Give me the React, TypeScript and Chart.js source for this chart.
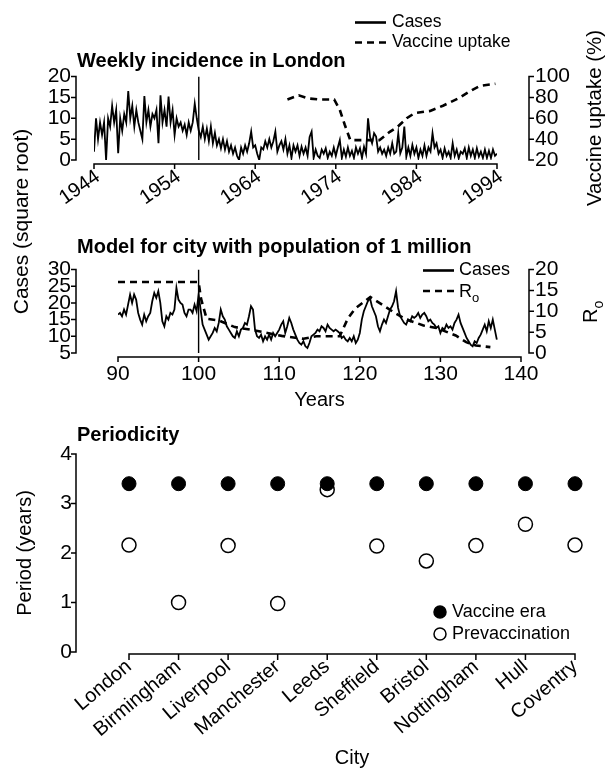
import React, { useEffect, useRef } from "react";
import { Chart, registerables } from "chart.js";

Chart.register(...registerables);

const FONT = "'Liberation Sans', Arial, sans-serif";
Chart.defaults.color = "#000";
Chart.defaults.font.family = FONT;

// ---------- Panel 1: weekly incidence in London (square root), quarter-year readings ----------
const londonStartYear = 1944;
const londonStepYears = 0.25;
const londonCases = [
  2, 10, 5, 9, 6, 9, 0, 10, 8, 13, 9, 12, 1.6, 10, 7, 11, 9, 16.5, 10, 13,
  8, 12, 9, 7, 5, 15.3, 9, 12, 8, 11, 10, 12, 4, 15.5, 9, 12, 8, 15.2, 9, 12,
  6, 10, 8, 9, 7, 8.5, 6, 9, 7, 9, 13.5, 10, 7, 5.5, 8, 5, 7.5, 4.5, 8, 4,
  6.5, 3.5, 5, 2.8, 5, 2.5, 4.5, 2, 3.5, 1.5, 3, 1, 0, 3, 1.5, 3.5, 2, 4, 6.8, 3,
  3.5, 1.5, 0, 3, 2.5, 4.5, 3, 5, 3, 4.5, 6.8, 2, 3.5, 4.5, 2.5, 5, 1.5, 3.5, 0.5, 3.5,
  2, 3.5, 1, 3.2, 1.5, 3, 1, 5.5, 6.8, 0.5, 2.5, 1, 0.5, 2.5, 1.5, 2.8, 0.5, 2, 1, 3,
  1, 3, 4.8, 0.5, 2.5, 0.8, 3, 1, 2.2, 0.5, 3, 1.5, 2.8, 0.5, 3.2, 1.5, 10, 5.5, 4, 6.4,
  5.6, 2, 3, 1.5, 2.5, 1, 3, 1.5, 4, 1.5, 2, 6.4, 1.6, 3, 8, 0.8, 3, 1, 3.6, 1.5,
  3, 0.5, 2.5, 1, 3.5, 1, 3, 2, 6.4, 3, 4, 1.5, 2.5, 0.5, 2.8, 1, 2, 0.5, 4, 1,
  2.5, 0.4, 2, 1.5, 2.8, 0.5, 3, 1, 2.5, 0.5, 2.8, 0.8, 2, 0.5, 2.5, 0.5, 2.2, 0.5, 2.5, 1,
  1.5,
];
const vaccineYears = [1968.0, 1969.4, 1970.6, 1972.0, 1973.8, 1974.5, 1975.1, 1975.8, 1977.2, 1979.4, 1980.7, 1981.7, 1982.8, 1983.8, 1985.7, 1987.3, 1989.2, 1990.9, 1991.9, 1993.8];
const vaccineUptake = [78, 82, 79, 78, 78, 68, 54, 39, 39, 39, 47, 52, 60, 65, 67, 72, 79, 87, 91, 93];
const londonYearTicks = [1944, 1954, 1964, 1974, 1984, 1994];
const londonCaseTicks = [0, 5, 10, 15, 20];
const uptakeTicks = [20, 40, 60, 80, 100];
const londonMarkerYear = 1957;

// ---------- Panel 2: model for a city of 1 million ----------
const modelStartYear = 90;
const modelStepYears = 0.25;
const modelCases = [
  16.5, 17, 16, 18, 16.5, 19.5, 22.5, 20, 22.5, 21, 17, 15, 13.5, 16.5, 14.5, 16, 17, 20.5, 23, 21.5,
  23.5, 20, 14.5, 13, 16, 15, 17, 16.5, 18, 24.5, 21, 20, 19.5, 17, 16, 18, 18, 17, 19.5, 17.5,
  22.5, 18, 13.5, 12, 10.5, 9, 10, 11, 12.5, 11.5, 14, 18, 16, 15, 13, 12, 11, 10, 9.5, 11.5,
  10, 12, 12.5, 14, 13.5, 16, 19, 18, 12, 10, 9.5, 10.5, 8.5, 10, 9, 10.5, 9, 11, 10, 11,
  12, 13.5, 14.5, 11, 13, 15.5, 14, 12, 10.5, 9, 8, 7.5, 8.5, 7, 6.5, 8, 10, 10.5, 11, 12,
  11.5, 13, 12.5, 11.5, 13.5, 12.5, 12, 11.5, 12, 11.5, 11, 9.5, 10, 9, 8.5, 9.5, 8.5, 10, 8, 9,
  11, 15, 17.5, 19, 20.5, 21.5, 19, 17.5, 16, 13, 11.5, 13.5, 15, 14, 16, 18, 19, 20.5, 23.5, 18.5,
  16, 15, 14, 13.5, 15, 14.5, 16, 15.5, 16, 17, 15.5, 16.5, 17, 16, 14.5, 15, 14, 13.5, 12.5, 13,
  11, 12.5, 12, 13.5, 12.5, 13, 12, 14, 15, 16.5, 14, 12.5, 11, 9.5, 8.5, 7.5, 7, 8.5, 8, 9.5,
  10.5, 12, 13.5, 11.5, 14.5, 12.5, 15, 12, 9,
];
const r0Years = [90, 100, 100.3, 101, 102.5, 104.5, 107, 110.3, 113, 114.6, 117.5, 118.5, 119.4, 121.3, 122.9, 124.1, 125.8, 127.9, 129.5, 131.9, 133.2, 134.4, 136.2];
const r0Values = [17, 17, 13, 8.2, 7.8, 6.2, 5.4, 4.1, 3.4, 4, 4, 8.2, 10.6, 13.4, 11.4, 9.9, 8, 6.6, 6, 4.2, 2.6, 1.8, 1.4];
const modelYearTicks = [90, 100, 110, 120, 130, 140];
const modelCaseTicks = [5, 10, 15, 20, 25, 30];
const r0Ticks = [0, 5, 10, 15, 20];
const modelMarkerYear = 100;

// ---------- Panel 3: periodicity ----------
const cities = ["London", "Birmingham", "Liverpool", "Manchester", "Leeds", "Sheffield", "Bristol", "Nottingham", "Hull", "Coventry"];
const vaccineEraPeriod = [3.4, 3.4, 3.4, 3.4, 3.4, 3.4, 3.4, 3.4, 3.4, 3.4];
const prevaccinationPeriod = [2.16, 1.0, 2.15, 0.98, 3.28, 2.14, 1.84, 2.15, 2.58, 2.16];
const periodTicks = [0, 1, 2, 3, 4];

type AxisSpec = { id: string; side: "left" | "right" | "bottom"; gap: number; tick: number };

function axesPlugin(specs: AxisSpec[]) {
  return {
    id: "separatedAxes",
    afterDraw(chart: any) {
      const { ctx, chartArea } = chart;
      ctx.save();
      ctx.strokeStyle = "#000";
      ctx.lineWidth = 1.5;
      for (const s of specs) {
        const scale = chart.scales[s.id];
        const px: number[] = scale.ticks.map((_t: any, i: number) => scale.getPixelForTick(i));
        const lo = Math.min(...px) - 0.75;
        const hi = Math.max(...px) + 0.75;
        ctx.beginPath();
        if (s.side === "bottom") {
          const y = chartArea.bottom + s.gap;
          ctx.moveTo(lo, y);
          ctx.lineTo(hi, y);
          for (const p of px) {
            ctx.moveTo(p, y);
            ctx.lineTo(p, y + s.tick);
          }
        } else {
          const x = s.side === "left" ? chartArea.left - s.gap : chartArea.right + s.gap;
          const d = s.side === "left" ? -s.tick : s.tick;
          ctx.moveTo(x, lo);
          ctx.lineTo(x, hi);
          for (const p of px) {
            ctx.moveTo(x, p);
            ctx.lineTo(x + d, p);
          }
        }
        ctx.stroke();
      }
      ctx.restore();
    },
  };
}

function txt(ctx: CanvasRenderingContext2D, s: string, x: number, y: number, font: string, align: CanvasTextAlign = "left", baseline: CanvasTextBaseline = "alphabetic", rot = 0) {
  ctx.save();
  ctx.font = font;
  ctx.fillStyle = "#000";
  ctx.textAlign = align;
  ctx.textBaseline = baseline;
  ctx.translate(x, y);
  if (rot) ctx.rotate(rot);
  ctx.fillText(s, 0, 0);
  ctx.restore();
}

function seg(ctx: CanvasRenderingContext2D, x1: number, y: number, x2: number, w: number, dash: number[]) {
  ctx.save();
  ctx.strokeStyle = "#000";
  ctx.lineWidth = w;
  ctx.setLineDash(dash);
  ctx.beginPath();
  ctx.moveTo(x1, y);
  ctx.lineTo(x2, y);
  ctx.stroke();
  ctx.restore();
}

function dot(ctx: CanvasRenderingContext2D, x: number, y: number, r: number, fill: string) {
  ctx.save();
  ctx.beginPath();
  ctx.arc(x, y, r, 0, Math.PI * 2);
  ctx.fillStyle = fill;
  ctx.fill();
  ctx.lineWidth = 1.5;
  ctx.strokeStyle = "#000";
  ctx.stroke();
  ctx.restore();
}

const setTicks = (vals: number[]) => (scale: any) => {
  scale.ticks = vals.map((v) => ({ value: v }));
};

// fix the width of a vertical axis and stop its label padding from pushing the plot area
const fixWidth = (w: number) => (s: any) => {
  s.width = w;
  s.paddingTop = 0;
  s.paddingBottom = 0;
};

const CASE_DASH = [7, 5];

export default function App() {
  const r1 = useRef<HTMLCanvasElement>(null);
  const r2 = useRef<HTMLCanvasElement>(null);
  const r3 = useRef<HTMLCanvasElement>(null);

  useEffect(() => {
    const noPlug = { legend: { display: false }, tooltip: { enabled: false }, title: { display: false } };
    const tickFont = { size: 21, family: FONT };

    // ---------------- Chart 1 ----------------
    const c1 = new Chart(r1.current as HTMLCanvasElement, {
      type: "line",
      data: {
        datasets: [
          {
            label: "Cases",
            data: londonCases.map((v, i) => ({ x: londonStartYear + i * londonStepYears, y: v })),
            borderColor: "#000",
            borderWidth: 1.8,
            pointRadius: 0,
            yAxisID: "y",
            tension: 0,
          },
          {
            label: "marker",
            data: [
              { x: londonMarkerYear, y: londonCaseTicks[0] },
              { x: londonMarkerYear, y: londonCaseTicks[londonCaseTicks.length - 1] },
            ],
            borderColor: "#000",
            borderWidth: 1.4,
            pointRadius: 0,
            yAxisID: "y",
          },
          {
            label: "Vaccine uptake",
            data: vaccineYears.map((x, i) => ({ x, y: vaccineUptake[i] })),
            borderColor: "#000",
            borderWidth: 2.6,
            borderDash: CASE_DASH,
            pointRadius: 0,
            yAxisID: "y2",
          },
        ],
      },
      options: {
        responsive: false,
        animation: false,
        events: [],
        layout: { padding: { top: 76.5, left: 0, right: 0, bottom: 0 } },
        plugins: noPlug as any,
        scales: {
          x: {
            type: "linear",
            min: londonYearTicks[0],
            max: londonYearTicks[londonYearTicks.length - 1],
            afterBuildTicks: setTicks(londonYearTicks),
            afterFit: (s: any) => { s.height = 60; },
            grid: { display: false, drawTicks: false },
            border: { display: false },
            ticks: { autoSkip: false, minRotation: 35, maxRotation: 35, padding: 5, labelOffset: 4, font: { size: 20 }, callback: (v: any) => String(v) },
          },
          y: {
            position: "left",
            min: 0,
            max: 20,
            afterBuildTicks: setTicks(londonCaseTicks),
            afterFit: fixWidth(94),
            grid: { display: false, drawTicks: false },
            border: { display: false },
            ticks: { autoSkip: false, padding: 23, font: tickFont },
          },
          y2: {
            position: "right",
            min: 20,
            max: 100,
            afterBuildTicks: setTicks(uptakeTicks),
            afterFit: fixWidth(108),
            grid: { display: false, drawTicks: false },
            border: { display: false },
            ticks: { autoSkip: false, padding: 38, font: tickFont },
          },
        } as any,
      },
      plugins: [
        axesPlugin([
          { id: "y", side: "left", gap: 18, tick: 5 },
          { id: "y2", side: "right", gap: 32, tick: 5 },
          { id: "x", side: "bottom", gap: 4, tick: 5 },
        ]),
        {
          id: "decor1",
          afterDraw(chart: any) {
            const ctx = chart.ctx as CanvasRenderingContext2D;
            seg(ctx, 355, 22.5, 386, 2.6, []);
            txt(ctx, "Cases", 392, 22.5, `17.5px ${FONT}`, "left", "middle");
            seg(ctx, 355, 42.5, 386, 2.6, CASE_DASH);
            txt(ctx, "Vaccine uptake", 392, 42.5, `17.5px ${FONT}`, "left", "middle");
            txt(ctx, "Weekly incidence in London", 77, 67, `bold 20px ${FONT}`);
            txt(ctx, "Vaccine uptake (%)", 595, 118, `20.5px ${FONT}`, "center", "middle", -Math.PI / 2);
          },
        },
      ],
    });

    // ---------------- Chart 2 ----------------
    const c2 = new Chart(r2.current as HTMLCanvasElement, {
      type: "line",
      data: {
        datasets: [
          {
            label: "Cases",
            data: modelCases.map((v, i) => ({ x: modelStartYear + i * modelStepYears, y: v })),
            borderColor: "#000",
            borderWidth: 1.8,
            pointRadius: 0,
            yAxisID: "y",
            tension: 0,
          },
          {
            label: "marker",
            data: [
              { x: modelMarkerYear, y: modelCaseTicks[0] },
              { x: modelMarkerYear, y: modelCaseTicks[modelCaseTicks.length - 1] },
            ],
            borderColor: "#000",
            borderWidth: 1.4,
            pointRadius: 0,
            yAxisID: "y",
          },
          {
            label: "R0",
            data: r0Years.map((x, i) => ({ x, y: r0Values[i] })),
            borderColor: "#000",
            borderWidth: 2.6,
            borderDash: CASE_DASH,
            pointRadius: 0,
            yAxisID: "y2",
          },
        ],
      },
      options: {
        responsive: false,
        animation: false,
        events: [],
        layout: { padding: { top: 154.5, left: 0, right: 0, bottom: 0 } },
        plugins: noPlug as any,
        scales: {
          x: {
            type: "linear",
            min: modelYearTicks[0],
            max: modelYearTicks[modelYearTicks.length - 1],
            afterBuildTicks: setTicks(modelYearTicks),
            afterFit: (s: any) => { s.height = 62; },
            grid: { display: false, drawTicks: false },
            border: { display: false },
            ticks: { autoSkip: false, maxRotation: 0, padding: 9, font: tickFont },
          },
          y: {
            position: "left",
            min: 5,
            max: 30,
            afterBuildTicks: setTicks(modelCaseTicks),
            afterFit: fixWidth(118),
            grid: { display: false, drawTicks: false },
            border: { display: false },
            ticks: { autoSkip: false, padding: 47, font: tickFont },
          },
          y2: {
            position: "right",
            min: 0,
            max: 20,
            afterBuildTicks: setTicks(r0Ticks),
            afterFit: fixWidth(84),
            grid: { display: false, drawTicks: false },
            border: { display: false },
            ticks: { autoSkip: false, padding: 14, font: tickFont },
          },
        } as any,
      },
      plugins: [
        axesPlugin([
          { id: "y", side: "left", gap: 42, tick: 5 },
          { id: "y2", side: "right", gap: 8, tick: 5 },
          { id: "x", side: "bottom", gap: 4, tick: 5 },
        ]),
        {
          id: "decor2",
          afterDraw(chart: any) {
            const ctx = chart.ctx as CanvasRenderingContext2D;
            txt(ctx, "Model for city with population of 1 million", 77, 138, `bold 20px ${FONT}`);
            txt(ctx, "Cases (square root)", 22, 106.5, `21px ${FONT}`, "center", "middle", -Math.PI / 2);
            seg(ctx, 423, 155.5, 454, 2.6, []);
            txt(ctx, "Cases", 459, 155.5, `18px ${FONT}`, "left", "middle");
            seg(ctx, 423, 176, 454, 2.6, CASE_DASH);
            txt(ctx, "R", 459, 182, `18px ${FONT}`, "left", "alphabetic");
            txt(ctx, "o", 472, 187, `13px ${FONT}`, "left", "alphabetic");
            txt(ctx, "Years", 319.5, 285.5, `20px ${FONT}`, "center", "middle");
            ctx.save();
            ctx.translate(597, 208);
            ctx.rotate(-Math.PI / 2);
            ctx.fillStyle = "#000";
            ctx.font = `20px ${FONT}`;
            ctx.textBaseline = "alphabetic";
            ctx.fillText("R", 0, 0);
            ctx.font = `14px ${FONT}`;
            ctx.fillText("o", 14.5, 6);
            ctx.restore();
          },
        },
      ],
    });

    // ---------------- Chart 3 ----------------
    const c3 = new Chart(r3.current as HTMLCanvasElement, {
      type: "line",
      data: {
        labels: cities,
        datasets: [
          {
            label: "Vaccine era",
            data: vaccineEraPeriod,
            showLine: false,
            pointRadius: 7,
            pointBackgroundColor: "#000",
            pointBorderColor: "#000",
            pointBorderWidth: 1,
            clip: false as any,
          },
          {
            label: "Prevaccination",
            data: prevaccinationPeriod,
            showLine: false,
            pointRadius: 7,
            pointBackgroundColor: "#fff",
            pointBorderColor: "#000",
            pointBorderWidth: 1.5,
            clip: false as any,
          },
        ],
      },
      options: {
        responsive: false,
        animation: false,
        events: [],
        layout: { padding: { top: 39, left: 0, right: 30, bottom: 0 } },
        plugins: noPlug as any,
        scales: {
          x: {
            type: "category",
            offset: false,
            afterFit: (s: any) => { s.height = 120; },
            grid: { display: false, drawTicks: false },
            border: { display: false },
            ticks: { autoSkip: false, minRotation: 40, maxRotation: 40, padding: 3, font: { size: 20 } },
          },
          y: {
            position: "left",
            min: 0,
            max: 4,
            afterBuildTicks: setTicks(periodTicks),
            afterFit: fixWidth(129),
            grid: { display: false, drawTicks: false },
            border: { display: false },
            ticks: { autoSkip: false, padding: 57, font: tickFont },
          },
        } as any,
      },
      plugins: [
        axesPlugin([
          { id: "y", side: "left", gap: 53, tick: 5 },
          { id: "x", side: "bottom", gap: 2, tick: 6 },
        ]),
        {
          id: "decor3",
          afterDraw(chart: any) {
            const ctx = chart.ctx as CanvasRenderingContext2D;
            txt(ctx, "Periodicity", 77, 26, `bold 20px ${FONT}`);
            txt(ctx, "Period (years)", 25, 138, `20px ${FONT}`, "center", "middle", -Math.PI / 2);
            txt(ctx, "City", 352, 343.5, `20px ${FONT}`, "center", "middle");
            dot(ctx, 440, 197, 6, "#000");
            txt(ctx, "Vaccine era", 452, 197, `18px ${FONT}`, "left", "middle");
            dot(ctx, 440, 219, 6, "#fff");
            txt(ctx, "Prevaccination", 452, 219, `18px ${FONT}`, "left", "middle");
          },
        },
      ],
    });

    return () => {
      c1.destroy();
      c2.destroy();
      c3.destroy();
    };
  }, []);

  return (
    <div style={{ position: "absolute", left: 0, top: 0, width: 605, height: 772, background: "#fff", overflow: "hidden" }}>
      <canvas ref={r1} width={605} height={220} style={{ position: "absolute", left: 0, top: 0 }} />
      <canvas ref={r2} width={605} height={300} style={{ position: "absolute", left: 0, top: 115 }} />
      <canvas ref={r3} width={605} height={357} style={{ position: "absolute", left: 0, top: 415 }} />
    </div>
  );
}
